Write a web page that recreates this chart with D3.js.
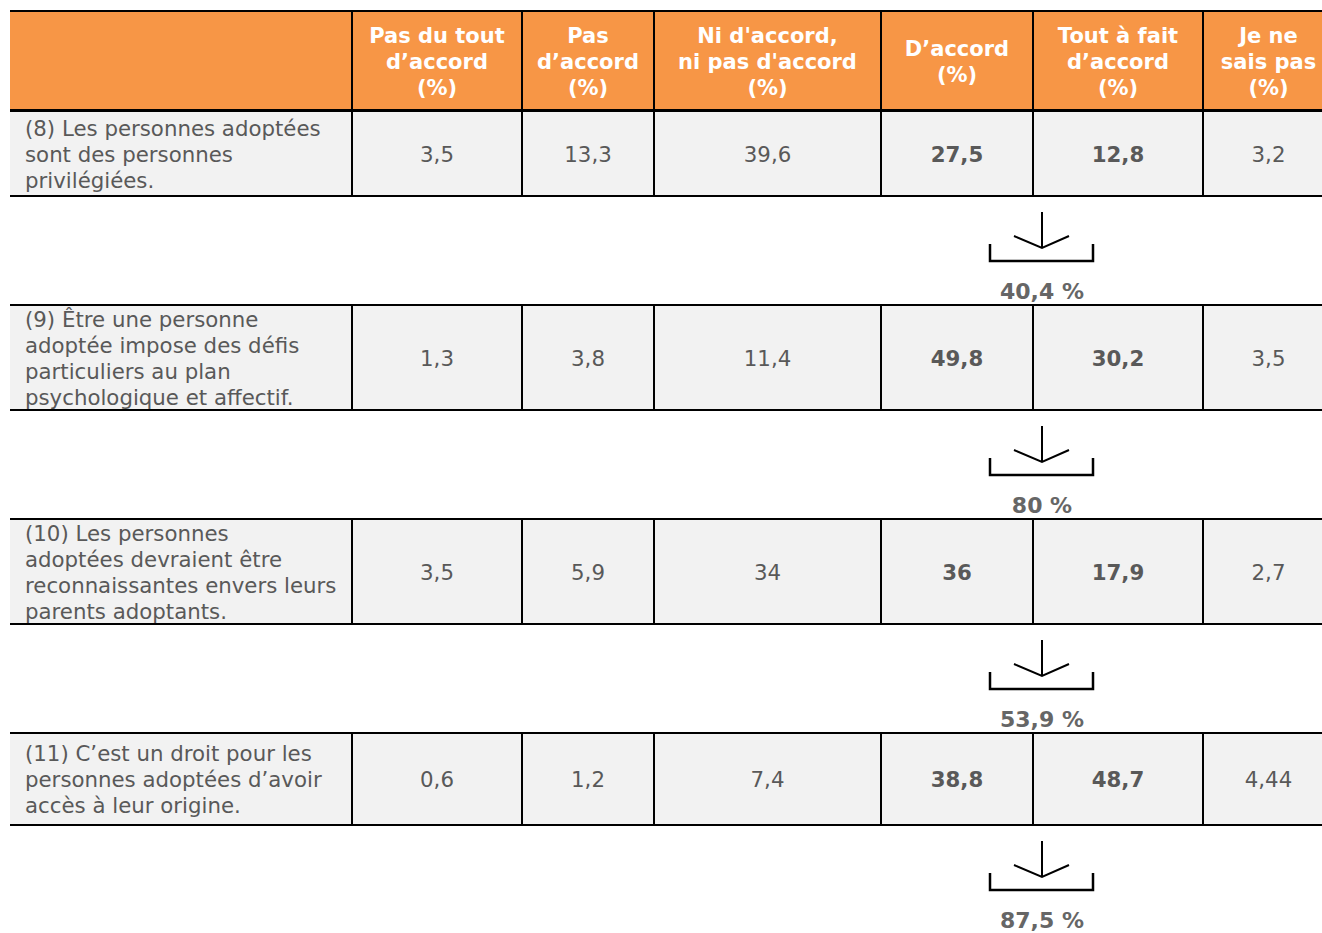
<!DOCTYPE html>
<html><head><meta charset="utf-8">
<script src="https://cdn.jsdelivr.net/npm/d3@7"></script>
<style>html,body{margin:0;padding:0;background:#fff;}svg{display:block;}</style>
</head><body>
<svg id="chart" width="1322" height="933"></svg>
<script>
// ---------- DATA ----------
const columns = ["Pas du tout\nd’accord\n(%)", "Pas\nd’accord\n(%)", "Ni d'accord,\nni pas d'accord\n(%)", "D’accord\n(%)", "Tout à fait\nd’accord\n(%)", "Je ne\nsais pas\n(%)"];
const statements = [
  "(8) Les personnes adoptées\nsont des personnes\nprivilégiées.",
  "(9) Être une personne\nadoptée impose des défis\nparticuliers au plan\npsychologique et affectif.",
  "(10) Les personnes\nadoptées devraient être\nreconnaissantes envers leurs\nparents adoptants.",
  "(11) C’est un droit pour les\npersonnes adoptées d’avoir\naccès à leur origine."
];
const pasDuTout = [3.5, 1.3, 3.5, 0.6];
const pasDaccord = [13.3, 3.8, 5.9, 1.2];
const niNi = [39.6, 11.4, 34, 7.4];
const daccord = [27.5, 49.8, 36, 38.8];
const toutAFait = [12.8, 30.2, 17.9, 48.7];
const neSaisPas = [3.2, 3.5, 2.7, 4.44];
const accordTotals = [40.4, 80, 53.9, 87.5];
const boldColumns = [3, 4];

// ---------- LAYOUT ----------
const W = 1322, H = 933;
const colEdges = [10, 352, 522, 654, 881, 1033, 1203, 1334];
const headerTop = 12, headerBottom = 110;
const rowTops = [111, 305, 519, 733];
const rowHeights = [85, 105, 105, 92];
const lineH = 26;
const ORANGE = "#F79646", GREY = "#F2F2F2", TXT = "#595959";
const FONT = "'DejaVu Sans', Verdana, sans-serif";

const series = [pasDuTout, pasDaccord, niNi, daccord, toutAFait, neSaisPas];
const fmt = v => String(v).replace(".", ",");

const svg = d3.select("#chart");
const x = d3.scaleOrdinal().domain(d3.range(colEdges.length)).range(colEdges);
const y = d3.scaleOrdinal().domain(d3.range(rowTops.length)).range(rowTops);

function multiline(g, text, cx, cy, anchor) {
  const lines = text.split("\n");
  const t = g.append("text").attr("text-anchor", anchor);
  lines.forEach((ln, i) => {
    t.append("tspan").attr("x", cx)
      .attr("y", cy + (i - (lines.length - 1) / 2) * lineH)
      .attr("dy", "0.35em").text(ln);
  });
  return t;
}

// header
svg.append("rect").attr("x", x(0)).attr("y", headerTop).attr("width", W - x(0)).attr("height", headerBottom - headerTop).attr("fill", ORANGE);
const hg = svg.append("g").attr("fill", "#fff").attr("font-family", FONT).attr("font-weight", "bold").attr("font-size", 21);
columns.forEach((c, i) => {
  const cx = (x(i + 1) + x(i + 2)) / 2;
  multiline(hg, c, cx, (headerTop + headerBottom) / 2 + 1, "middle");
});

// rows
statements.forEach((s, r) => {
  const top = y(r), h = rowHeights[r], cy = top + h / 2;
  svg.append("rect").attr("x", x(0)).attr("y", top).attr("width", W - x(0)).attr("height", h).attr("fill", GREY);
  const g = svg.append("g").attr("fill", TXT).attr("font-family", FONT).attr("font-size", 21.3);
  multiline(g, s, 25, cy + 1, "start");
  series.forEach((vals, c) => {
    const cx = (x(c + 1) + x(c + 2)) / 2;
    g.append("text").attr("x", cx).attr("y", cy + 1).attr("dy", "0.35em").attr("text-anchor", "middle")
      .attr("font-weight", boldColumns.includes(c) ? "bold" : "normal").text(fmt(vals[r]));
  });
  // borders
  [top, top + h].forEach(yy => svg.append("line").attr("x1", x(0)).attr("x2", W).attr("y1", yy).attr("y2", yy).attr("stroke", "#000").attr("stroke-width", 2));
  d3.range(1, colEdges.length - 1).forEach(k => svg.append("line").attr("x1", x(k)).attr("x2", x(k)).attr("y1", top).attr("y2", top + h).attr("stroke", "#000").attr("stroke-width", 2));

  // arrow + bracket
  const b = top + h;
  const ax = 1042;
  const ag = svg.append("g").attr("stroke", "#000").attr("fill", "none");
  ag.append("line").attr("x1", ax).attr("x2", ax).attr("y1", b + 16).attr("y2", b + 52).attr("stroke-width", 2);
  ag.append("polyline").attr("points", `${ax - 28},${b + 40} ${ax},${b + 52} ${ax + 27},${b + 40}`).attr("stroke-width", 2);
  ag.append("polyline").attr("points", `990,${b + 48} 990,${b + 65} 1093,${b + 65} 1093,${b + 48}`).attr("stroke-width", 2.5);
  svg.append("text").attr("x", ax).attr("y", b + 95).attr("dy", "0.35em").attr("text-anchor", "middle")
    .attr("font-family", FONT).attr("font-weight", "bold").attr("font-size", 22).attr("fill", "#666")
    .text(fmt(accordTotals[r]) + " %");
});

// header borders
[headerTop - 1, headerBottom].forEach(yy => svg.append("line").attr("x1", x(0)).attr("x2", W).attr("y1", yy).attr("y2", yy).attr("stroke", "#000").attr("stroke-width", 2));
d3.range(1, colEdges.length - 1).forEach(k => svg.append("line").attr("x1", x(k)).attr("x2", x(k)).attr("y1", headerTop).attr("y2", headerBottom).attr("stroke", "#000").attr("stroke-width", 2));
</script>
</body></html>
